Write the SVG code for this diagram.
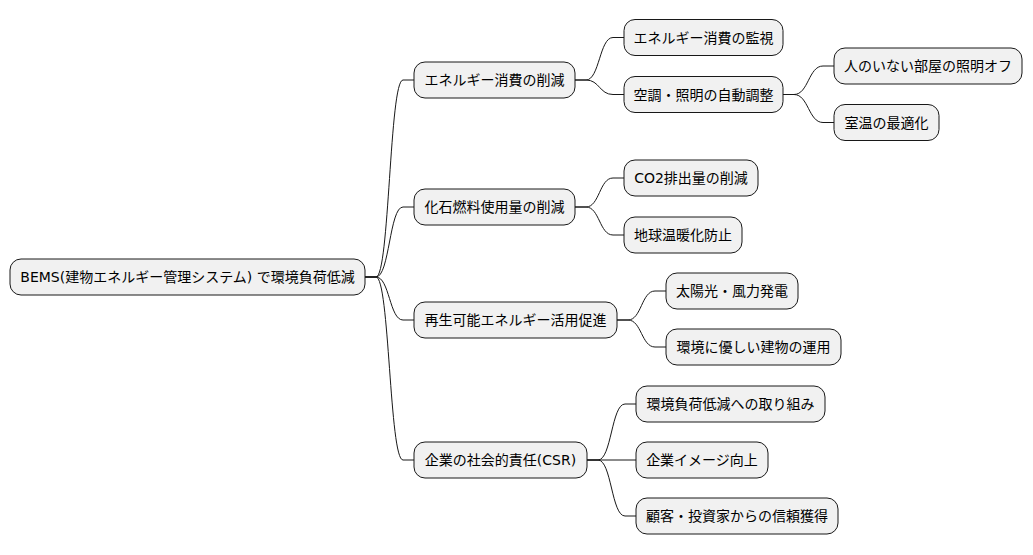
<svg xmlns="http://www.w3.org/2000/svg" width="1033" height="555" viewBox="0 0 1033 555">
<style>
.box{fill:#F1F1F1;stroke:#181818;stroke-width:1}
.t{font-family:"DejaVu Sans","Noto Sans CJK JP",sans-serif;font-size:14px;fill:#000000;text-anchor:middle}
.c{fill:none;stroke:#181818;stroke-width:1}
</style>
<rect width="1033" height="555" fill="#FFFFFF"/>
<g id="connectors">
<path class="c" d="M365,277 H376 C389.5,277 389.5,80 403,80 H414"/>
<path class="c" d="M365,277 H376 C389.5,277 389.5,207 403,207 H414"/>
<path class="c" d="M365,277 H376 C389.5,277 389.5,320 403,320 H414"/>
<path class="c" d="M365,277 H376 C389.5,277 389.5,460 403,460 H414"/>
<path class="c" d="M575,80 H586 C599.5,80 599.5,37.5 613,37.5 H624"/>
<path class="c" d="M575,80 H586 C599.5,80 599.5,94.5 613,94.5 H624"/>
<path class="c" d="M783,94.5 H794 C808.5,94.5 808.5,66 823,66 H834"/>
<path class="c" d="M783,94.5 H794 C808.5,94.5 808.5,122.5 823,122.5 H834"/>
<path class="c" d="M575,207 H586 C599.5,207 599.5,178 613,178 H624"/>
<path class="c" d="M575,207 H586 C599.5,207 599.5,235 613,235 H624"/>
<path class="c" d="M617,320 H628 C641.5,320 641.5,291 655,291 H666"/>
<path class="c" d="M617,320 H628 C641.5,320 641.5,347 655,347 H666"/>
<path class="c" d="M587,460 H598 C611.5,460 611.5,404 625,404 H636"/>
<path class="c" d="M587,460 H636"/>
<path class="c" d="M587,460 H598 C611.5,460 611.5,516 625,516 H636"/>
</g>
<g id="root"><rect class="box" x="10" y="259" width="355" height="36" rx="11"/><text class="t" x="187.5" y="282">BEMS(建物エネルギー管理システム) で環境負荷低減</text></g>
<g id="n1"><rect class="box" x="414" y="62" width="161" height="36" rx="11"/><text class="t" x="494.5" y="85">エネルギー消費の削減</text></g>
<g id="n1a"><rect class="box" x="624" y="19.5" width="159" height="36" rx="11"/><text class="t" x="703.5" y="42.5">エネルギー消費の監視</text></g>
<g id="n1b"><rect class="box" x="624" y="76.5" width="159" height="36" rx="11"/><text class="t" x="703.5" y="99.5">空調・照明の自動調整</text></g>
<g id="n1b1"><rect class="box" x="834" y="48" width="188" height="36" rx="11"/><text class="t" x="928" y="71">人のいない部屋の照明オフ</text></g>
<g id="n1b2"><rect class="box" x="834" y="104.5" width="105" height="36" rx="11"/><text class="t" x="886.5" y="127.5">室温の最適化</text></g>
<g id="n2"><rect class="box" x="414" y="189" width="161" height="36" rx="11"/><text class="t" x="494.5" y="212">化石燃料使用量の削減</text></g>
<g id="n2a"><rect class="box" x="624" y="160" width="134" height="36" rx="11"/><text class="t" x="691" y="183">CO2排出量の削減</text></g>
<g id="n2b"><rect class="box" x="624" y="217" width="118" height="36" rx="11"/><text class="t" x="683" y="240">地球温暖化防止</text></g>
<g id="n3"><rect class="box" x="414" y="302" width="203" height="36" rx="11"/><text class="t" x="515.5" y="325">再生可能エネルギー活用促進</text></g>
<g id="n3a"><rect class="box" x="666" y="273" width="132" height="36" rx="11"/><text class="t" x="732" y="296">太陽光・風力発電</text></g>
<g id="n3b"><rect class="box" x="666" y="329" width="175" height="36" rx="11"/><text class="t" x="753.5" y="352">環境に優しい建物の運用</text></g>
<g id="n4"><rect class="box" x="414" y="442" width="173" height="36" rx="11"/><text class="t" x="500.5" y="465">企業の社会的責任(CSR)</text></g>
<g id="n4a"><rect class="box" x="636" y="386" width="189" height="36" rx="11"/><text class="t" x="730.5" y="409">環境負荷低減への取り組み</text></g>
<g id="n4b"><rect class="box" x="636" y="442" width="132" height="36" rx="11"/><text class="t" x="702" y="465">企業イメージ向上</text></g>
<g id="n4c"><rect class="box" x="636" y="498" width="202" height="36" rx="11"/><text class="t" x="737" y="521">顧客・投資家からの信頼獲得</text></g>
</svg>
